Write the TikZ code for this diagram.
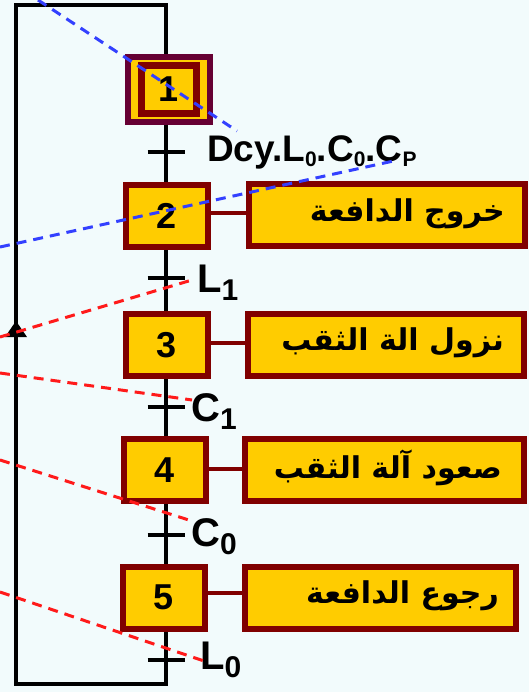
\documentclass[tikz,border=0pt]{standalone}
\usepackage{fontspec}
\usetikzlibrary{calc}
\setmainfont{Liberation Sans}
\newfontfamily\arabicfont[Script=Arabic]{DejaVu Sans}
\TeXXeTstate=1
\begin{document}
% GRAFCET of the drilling station, drawn on a 529 x 692 grid (1 unit = 1pt, y downwards)
\begin{tikzpicture}[x=1pt,y=-1pt,
  wire/.style={line width=4.5pt,black},
  tick/.style={line width=4.5pt,black},
  stepbox/.style={draw=stepred,fill=gold,line width=6pt,minimum width=82pt,minimum height=62pt,
    inner sep=0pt,font=\fontsize{36}{40}\selectfont\bfseries},
  actbox/.style={draw=stepred,fill=gold,line width=6pt,minimum height=62pt,inner sep=0pt},
  acttext/.style={anchor=east,inner sep=0pt,font=\arabicfont\bfseries\fontsize{30}{34}\selectfont},
  link/.style={line width=3.5pt,stepred},
  cond/.style={anchor=base west,inner sep=0pt,font=\fontsize{40}{44}\selectfont\bfseries},
  bluedash/.style={line width=3pt,dashblue,dash pattern=on 10pt off 7pt},
  reddash/.style={line width=3pt,dashred,dash pattern=on 10pt off 7pt}]
\definecolor{bgcol}{HTML}{F2FBFC}
\definecolor{gold}{HTML}{FFCC00}
\definecolor{stepred}{HTML}{800000}
\definecolor{initred}{HTML}{660033}
\definecolor{dashblue}{HTML}{3340FF}
\definecolor{dashred}{HTML}{FF1A1A}
\newcommand\bigsub[1]{\raisebox{-8pt}{\fontsize{30}{32}\selectfont #1}}
\newcommand\smallsub[1]{\raisebox{-5pt}{\fontsize{21}{24}\selectfont #1}}

\useasboundingbox (0,0) rectangle (529,692);
\fill[bgcol] (0,0) rectangle (529,692);

% loop-back line and the main trunk
\coordinate (top) at (166,5);
\coordinate (bot) at (166,684);
\coordinate (cornerTL) at (16,5);
\coordinate (cornerBL) at (16,684);

% initial step (double frame)
\node[draw=initred,fill=gold,line width=5.5pt,minimum width=82pt,minimum height=65pt,inner sep=0pt] (s1) at (169,89.5) {};
\node[draw=stepred,line width=7pt,minimum width=55pt,minimum height=48pt,inner sep=0pt,
  font=\fontsize{36}{40}\selectfont\bfseries] (s1in) at (s1) {1};

% steps 2 to 5
\node[stepbox] (s2) at (166.5,216) {2};
\node[stepbox] (s3) at (166.5,345) {3};
\node[stepbox] (s4) at (165,470) {4};
\node[stepbox] (s5) at (164,597.5) {5};

% transitions
\coordinate (t1) at (166,152);
\coordinate (t2) at (166,278);
\coordinate (t3) at (166,407);
\coordinate (t4) at (166,535);
\coordinate (t5) at (166,660);

% trunk segments
\begin{scope}[wire]
\draw[line join=miter] (s5.south -| bot) -- (bot) -- (cornerBL) -- (cornerTL) -- (top) -- (s1.north -| top);
\draw (s1.south -| t1) -- (s2.north -| t1);
\draw (s2.south -| t2) -- (s3.north -| t2);
\draw (s3.south -| t3) -- (s4.north -| t3);
\draw (s4.south -| t4) -- (s5.north -| t4);
\end{scope}

% upward arrow on the return line
\coordinate (ret) at (16,330);
\fill[black] ($(ret)+(0,-9)$) -- ++(-11,16) -- ++(22,0) -- cycle;

% transition bars
\foreach \t in {t1,t2,t3,t4,t5}
  \draw[tick] ($(\t)+(-18.5,0)$) -- ($(\t)+(18.5,0)$);

% receptivities
\node[cond,font=\fontsize{37}{40}\selectfont\bfseries] (r1) at (207,162)
  {Dcy.L\smallsub{0}.C\smallsub{0}.C\smallsub{P}};
\node[cond] (r2) at (197,292) {L\bigsub{1}};
\node[cond] (r3) at (191,421) {C\bigsub{1}};
\node[cond] (r4) at (191,546) {C\bigsub{0}};
\node[cond] (r5) at (200,669) {L\bigsub{0}};

% actions
\node[actbox,minimum width=276pt] (a2) at (387,215.5) {};
\node[actbox,minimum width=276pt] (a3) at (386,345) {};
\node[actbox,minimum width=279pt] (a4) at (384.5,470) {};
\node[actbox,minimum width=271pt] (a5) at (380.5,597.5) {};
\node[acttext] (x2) at (505,214) {\beginR خروج الدافعة\endR};
\node[acttext] (x3) at (504,343) {\beginR نزول الة الثقب\endR};
\node[acttext] (x4) at (502,468) {\beginR صعود آلة الثقب\endR};
\node[acttext] (x5) at (499,596) {\beginR رجوع الدافعة\endR};

\draw[link] (s2.east |- 0,213) -- (a2.west |- 0,213);
\draw[link] (s3.east |- 0,343) -- (a3.west |- 0,343);
\draw[link] (s4.east |- 0,469) -- (a4.west |- 0,469);
\draw[link] (s5.east |- 0,593) -- (a5.west |- 0,593);

% dashed guide lines
\coordinate (b1a) at (38,0);   \coordinate (b1b) at (237,131);
\coordinate (b2a) at (0,247);  \coordinate (b2b) at (398,160);
\coordinate (q1a) at (0,337);  \coordinate (q1b) at (192,280);
\coordinate (q2a) at (0,373);  \coordinate (q2b) at (192,400);
\coordinate (q3a) at (0,460);  \coordinate (q3b) at (192,521);
\coordinate (q4a) at (0,592);  \coordinate (q4b) at (207,662);
\draw[bluedash] (b1a) -- (b1b);
\draw[bluedash] (b2a) -- (b2b);
\draw[reddash] (q1a) -- (q1b);
\draw[reddash] (q2a) -- (q2b);
\draw[reddash] (q3a) -- (q3b);
\draw[reddash] (q4a) -- (q4b);
\end{tikzpicture}
\end{document}
